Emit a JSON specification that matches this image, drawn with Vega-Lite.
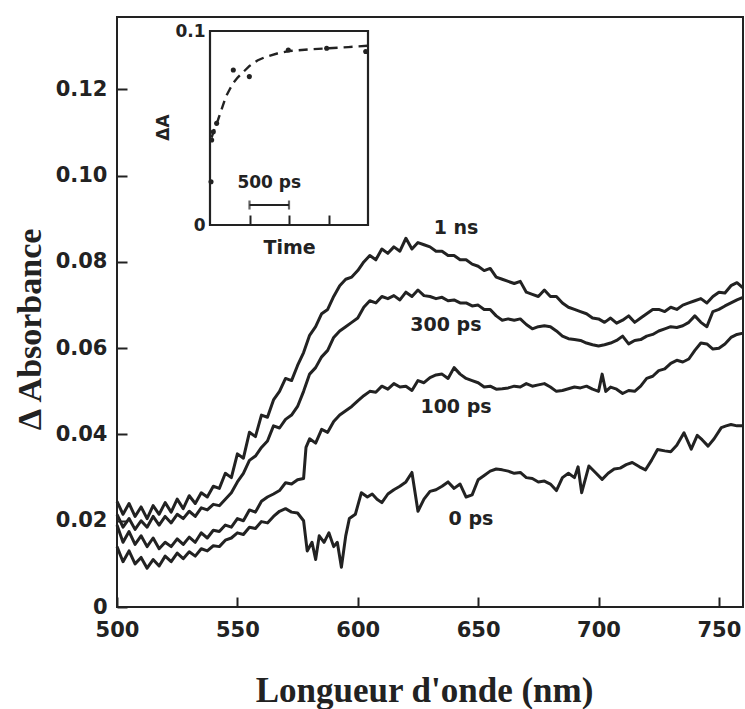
{
"$schema": "https://vega.github.io/schema/vega-lite/v6.json",
"width": 626, "height": 590,
"autosize": {"type": "none"},
"padding": {"left": 117, "top": 17, "right": 2, "bottom": 102},
"background": "white",
"config": {
  "view": {"stroke": "#222", "strokeWidth": 2},
  "axis": {"domain": false, "grid": false, "labelFont": "DejaVu Sans", "labelFontWeight": "bold", "labelColor": "#222", "tickColor": "#222", "tickWidth": 2, "titleColor": "#222"}
},
"datasets": {
  "spectra": [
{"c":"1ns","w":500,"a":0.0245},{"c":"1ns","w":502.5,"a":0.0215},{"c":"1ns","w":505,"a":0.0240},{"c":"1ns","w":507.5,"a":0.0210},{"c":"1ns","w":510,"a":0.0232},{"c":"1ns","w":512.5,"a":0.0205},{"c":"1ns","w":515,"a":0.0235},{"c":"1ns","w":517.5,"a":0.0215},{"c":"1ns","w":520,"a":0.0242},{"c":"1ns","w":522.5,"a":0.0220},{"c":"1ns","w":525,"a":0.0250},{"c":"1ns","w":527.5,"a":0.0228},{"c":"1ns","w":530,"a":0.0258},{"c":"1ns","w":532.5,"a":0.0240},{"c":"1ns","w":535,"a":0.0265},{"c":"1ns","w":537.5,"a":0.0255},{"c":"1ns","w":540,"a":0.0280},{"c":"1ns","w":542.5,"a":0.0275},{"c":"1ns","w":545,"a":0.0310},{"c":"1ns","w":547.5,"a":0.0300},{"c":"1ns","w":550,"a":0.0355},{"c":"1ns","w":552.5,"a":0.0345},{"c":"1ns","w":555,"a":0.0405},{"c":"1ns","w":557.5,"a":0.0395},{"c":"1ns","w":560,"a":0.0445},{"c":"1ns","w":562.5,"a":0.0440},{"c":"1ns","w":565,"a":0.0480},{"c":"1ns","w":567.5,"a":0.0500},{"c":"1ns","w":570,"a":0.0530},{"c":"1ns","w":572.5,"a":0.0525},{"c":"1ns","w":575,"a":0.0560},{"c":"1ns","w":577.5,"a":0.0590},{"c":"1ns","w":580,"a":0.0630},{"c":"1ns","w":582.5,"a":0.0650},{"c":"1ns","w":585,"a":0.0680},{"c":"1ns","w":587.5,"a":0.0690},{"c":"1ns","w":590,"a":0.0720},{"c":"1ns","w":592.5,"a":0.0745},{"c":"1ns","w":595,"a":0.0760},{"c":"1ns","w":597.5,"a":0.0765},{"c":"1ns","w":600,"a":0.0780},{"c":"1ns","w":602.5,"a":0.0800},{"c":"1ns","w":605,"a":0.0815},{"c":"1ns","w":607.5,"a":0.0805},{"c":"1ns","w":610,"a":0.0830},{"c":"1ns","w":612.5,"a":0.0820},{"c":"1ns","w":615,"a":0.0835},{"c":"1ns","w":617.5,"a":0.0825},{"c":"1ns","w":620,"a":0.0855},{"c":"1ns","w":622.5,"a":0.0830},{"c":"1ns","w":625,"a":0.0845},{"c":"1ns","w":627.5,"a":0.0840},{"c":"1ns","w":630,"a":0.0835},{"c":"1ns","w":632.5,"a":0.0825},{"c":"1ns","w":635,"a":0.0825},{"c":"1ns","w":637.5,"a":0.0815},{"c":"1ns","w":640,"a":0.0815},{"c":"1ns","w":642.5,"a":0.0805},{"c":"1ns","w":645,"a":0.0805},{"c":"1ns","w":647.5,"a":0.0795},{"c":"1ns","w":650,"a":0.0790},{"c":"1ns","w":652.5,"a":0.0780},{"c":"1ns","w":655,"a":0.0785},{"c":"1ns","w":657.5,"a":0.0765},{"c":"1ns","w":660,"a":0.0760},{"c":"1ns","w":662.5,"a":0.0755},{"c":"1ns","w":665,"a":0.0750},{"c":"1ns","w":667.5,"a":0.0755},{"c":"1ns","w":670,"a":0.0730},{"c":"1ns","w":672.5,"a":0.0725},{"c":"1ns","w":675,"a":0.0720},{"c":"1ns","w":677.5,"a":0.0735},{"c":"1ns","w":680,"a":0.0720},{"c":"1ns","w":682.5,"a":0.0720},{"c":"1ns","w":685,"a":0.0705},{"c":"1ns","w":687.5,"a":0.0695},{"c":"1ns","w":690,"a":0.0690},{"c":"1ns","w":692.5,"a":0.0685},{"c":"1ns","w":695,"a":0.0680},{"c":"1ns","w":697.5,"a":0.0670},{"c":"1ns","w":700,"a":0.0668},{"c":"1ns","w":702.5,"a":0.0660},{"c":"1ns","w":705,"a":0.0670},{"c":"1ns","w":707.5,"a":0.0658},{"c":"1ns","w":710,"a":0.0665},{"c":"1ns","w":712.5,"a":0.0675},{"c":"1ns","w":715,"a":0.0660},{"c":"1ns","w":717.5,"a":0.0670},{"c":"1ns","w":720,"a":0.0680},{"c":"1ns","w":722.5,"a":0.0690},{"c":"1ns","w":725,"a":0.0690},{"c":"1ns","w":727.5,"a":0.0685},{"c":"1ns","w":730,"a":0.0695},{"c":"1ns","w":732.5,"a":0.0690},{"c":"1ns","w":735,"a":0.0700},{"c":"1ns","w":737.5,"a":0.0705},{"c":"1ns","w":740,"a":0.0710},{"c":"1ns","w":742.5,"a":0.0715},{"c":"1ns","w":745,"a":0.0705},{"c":"1ns","w":747.5,"a":0.0720},{"c":"1ns","w":750,"a":0.0730},{"c":"1ns","w":752.5,"a":0.0728},{"c":"1ns","w":755,"a":0.0745},{"c":"1ns","w":757.5,"a":0.0752},{"c":"1ns","w":760,"a":0.0740},
{"c":"300ps","w":500,"a":0.0215},{"c":"300ps","w":502.5,"a":0.0185},{"c":"300ps","w":505,"a":0.0205},{"c":"300ps","w":507.5,"a":0.0180},{"c":"300ps","w":510,"a":0.0200},{"c":"300ps","w":512.5,"a":0.0185},{"c":"300ps","w":515,"a":0.0210},{"c":"300ps","w":517.5,"a":0.0190},{"c":"300ps","w":520,"a":0.0210},{"c":"300ps","w":522.5,"a":0.0195},{"c":"300ps","w":525,"a":0.0215},{"c":"300ps","w":527.5,"a":0.0205},{"c":"300ps","w":530,"a":0.0222},{"c":"300ps","w":532.5,"a":0.0210},{"c":"300ps","w":535,"a":0.0230},{"c":"300ps","w":537.5,"a":0.0225},{"c":"300ps","w":540,"a":0.0238},{"c":"300ps","w":542.5,"a":0.0235},{"c":"300ps","w":545,"a":0.0250},{"c":"300ps","w":547.5,"a":0.0265},{"c":"300ps","w":550,"a":0.0290},{"c":"300ps","w":552.5,"a":0.0310},{"c":"300ps","w":555,"a":0.0340},{"c":"300ps","w":557.5,"a":0.0350},{"c":"300ps","w":560,"a":0.0370},{"c":"300ps","w":562.5,"a":0.0385},{"c":"300ps","w":565,"a":0.0420},{"c":"300ps","w":567.5,"a":0.0415},{"c":"300ps","w":570,"a":0.0435},{"c":"300ps","w":572.5,"a":0.0445},{"c":"300ps","w":575,"a":0.0465},{"c":"300ps","w":577.5,"a":0.0500},{"c":"300ps","w":580,"a":0.0540},{"c":"300ps","w":582.5,"a":0.0555},{"c":"300ps","w":585,"a":0.0580},{"c":"300ps","w":587.5,"a":0.0595},{"c":"300ps","w":590,"a":0.0625},{"c":"300ps","w":592.5,"a":0.0640},{"c":"300ps","w":595,"a":0.0650},{"c":"300ps","w":597.5,"a":0.0660},{"c":"300ps","w":600,"a":0.0670},{"c":"300ps","w":602.5,"a":0.0695},{"c":"300ps","w":605,"a":0.0710},{"c":"300ps","w":607.5,"a":0.0705},{"c":"300ps","w":610,"a":0.0720},{"c":"300ps","w":612.5,"a":0.0715},{"c":"300ps","w":615,"a":0.0722},{"c":"300ps","w":617.5,"a":0.0712},{"c":"300ps","w":620,"a":0.0730},{"c":"300ps","w":622.5,"a":0.0720},{"c":"300ps","w":625,"a":0.0735},{"c":"300ps","w":627.5,"a":0.0722},{"c":"300ps","w":630,"a":0.0720},{"c":"300ps","w":632.5,"a":0.0715},{"c":"300ps","w":635,"a":0.0718},{"c":"300ps","w":637.5,"a":0.0710},{"c":"300ps","w":640,"a":0.0712},{"c":"300ps","w":642.5,"a":0.0705},{"c":"300ps","w":645,"a":0.0705},{"c":"300ps","w":647.5,"a":0.0698},{"c":"300ps","w":650,"a":0.0700},{"c":"300ps","w":652.5,"a":0.0690},{"c":"300ps","w":655,"a":0.0690},{"c":"300ps","w":657.5,"a":0.0675},{"c":"300ps","w":660,"a":0.0665},{"c":"300ps","w":662.5,"a":0.0668},{"c":"300ps","w":665,"a":0.0665},{"c":"300ps","w":667.5,"a":0.0668},{"c":"300ps","w":670,"a":0.0655},{"c":"300ps","w":672.5,"a":0.0645},{"c":"300ps","w":675,"a":0.0650},{"c":"300ps","w":677.5,"a":0.0652},{"c":"300ps","w":680,"a":0.0650},{"c":"300ps","w":682.5,"a":0.0640},{"c":"300ps","w":685,"a":0.0628},{"c":"300ps","w":687.5,"a":0.0622},{"c":"300ps","w":690,"a":0.0620},{"c":"300ps","w":692.5,"a":0.0618},{"c":"300ps","w":695,"a":0.0612},{"c":"300ps","w":697.5,"a":0.0608},{"c":"300ps","w":700,"a":0.0605},{"c":"300ps","w":702.5,"a":0.0608},{"c":"300ps","w":705,"a":0.0612},{"c":"300ps","w":707.5,"a":0.0618},{"c":"300ps","w":710,"a":0.0628},{"c":"300ps","w":712.5,"a":0.0610},{"c":"300ps","w":715,"a":0.0618},{"c":"300ps","w":717.5,"a":0.0620},{"c":"300ps","w":720,"a":0.0628},{"c":"300ps","w":722.5,"a":0.0632},{"c":"300ps","w":725,"a":0.0640},{"c":"300ps","w":727.5,"a":0.0645},{"c":"300ps","w":730,"a":0.0650},{"c":"300ps","w":732.5,"a":0.0648},{"c":"300ps","w":735,"a":0.0652},{"c":"300ps","w":737.5,"a":0.0660},{"c":"300ps","w":740,"a":0.0675},{"c":"300ps","w":742.5,"a":0.0660},{"c":"300ps","w":745,"a":0.0650},{"c":"300ps","w":747.5,"a":0.0685},{"c":"300ps","w":750,"a":0.0690},{"c":"300ps","w":752.5,"a":0.0698},{"c":"300ps","w":755,"a":0.0705},{"c":"300ps","w":757.5,"a":0.0712},{"c":"300ps","w":760,"a":0.0718},
{"c":"100ps","w":500,"a":0.0190},{"c":"100ps","w":502.5,"a":0.0150},{"c":"100ps","w":505,"a":0.0175},{"c":"100ps","w":507.5,"a":0.0145},{"c":"100ps","w":510,"a":0.0165},{"c":"100ps","w":512.5,"a":0.0140},{"c":"100ps","w":515,"a":0.0160},{"c":"100ps","w":517.5,"a":0.0135},{"c":"100ps","w":520,"a":0.0150},{"c":"100ps","w":522.5,"a":0.0140},{"c":"100ps","w":525,"a":0.0158},{"c":"100ps","w":527.5,"a":0.0145},{"c":"100ps","w":530,"a":0.0162},{"c":"100ps","w":532.5,"a":0.0150},{"c":"100ps","w":535,"a":0.0172},{"c":"100ps","w":537.5,"a":0.0160},{"c":"100ps","w":540,"a":0.0178},{"c":"100ps","w":542.5,"a":0.0175},{"c":"100ps","w":545,"a":0.0190},{"c":"100ps","w":547.5,"a":0.0185},{"c":"100ps","w":550,"a":0.0205},{"c":"100ps","w":552.5,"a":0.0200},{"c":"100ps","w":555,"a":0.0225},{"c":"100ps","w":557.5,"a":0.0220},{"c":"100ps","w":560,"a":0.0245},{"c":"100ps","w":562.5,"a":0.0255},{"c":"100ps","w":565,"a":0.0262},{"c":"100ps","w":567.5,"a":0.0270},{"c":"100ps","w":570,"a":0.0288},{"c":"100ps","w":572.5,"a":0.0285},{"c":"100ps","w":575,"a":0.0295},{"c":"100ps","w":577.5,"a":0.0298},{"c":"100ps","w":578.5,"a":0.0370},{"c":"100ps","w":580,"a":0.0390},{"c":"100ps","w":582.5,"a":0.0380},{"c":"100ps","w":585,"a":0.0412},{"c":"100ps","w":587.5,"a":0.0405},{"c":"100ps","w":590,"a":0.0430},{"c":"100ps","w":592.5,"a":0.0445},{"c":"100ps","w":595,"a":0.0455},{"c":"100ps","w":597.5,"a":0.0465},{"c":"100ps","w":600,"a":0.0478},{"c":"100ps","w":602.5,"a":0.0490},{"c":"100ps","w":605,"a":0.0500},{"c":"100ps","w":607.5,"a":0.0498},{"c":"100ps","w":610,"a":0.0512},{"c":"100ps","w":612.5,"a":0.0505},{"c":"100ps","w":615,"a":0.0518},{"c":"100ps","w":617.5,"a":0.0510},{"c":"100ps","w":620,"a":0.0512},{"c":"100ps","w":622.5,"a":0.0502},{"c":"100ps","w":625,"a":0.0525},{"c":"100ps","w":627.5,"a":0.0520},{"c":"100ps","w":630,"a":0.0532},{"c":"100ps","w":632.5,"a":0.0538},{"c":"100ps","w":635,"a":0.0540},{"c":"100ps","w":637.5,"a":0.0530},{"c":"100ps","w":640,"a":0.0555},{"c":"100ps","w":642.5,"a":0.0540},{"c":"100ps","w":645,"a":0.0530},{"c":"100ps","w":647.5,"a":0.0525},{"c":"100ps","w":650,"a":0.0520},{"c":"100ps","w":652.5,"a":0.0510},{"c":"100ps","w":655,"a":0.0512},{"c":"100ps","w":657.5,"a":0.0505},{"c":"100ps","w":660,"a":0.0506},{"c":"100ps","w":662.5,"a":0.0508},{"c":"100ps","w":665,"a":0.0512},{"c":"100ps","w":667.5,"a":0.0510},{"c":"100ps","w":670,"a":0.0518},{"c":"100ps","w":672.5,"a":0.0512},{"c":"100ps","w":675,"a":0.0515},{"c":"100ps","w":677.5,"a":0.0518},{"c":"100ps","w":680,"a":0.0510},{"c":"100ps","w":682.5,"a":0.0500},{"c":"100ps","w":685,"a":0.0502},{"c":"100ps","w":687.5,"a":0.0506},{"c":"100ps","w":690,"a":0.0510},{"c":"100ps","w":692.5,"a":0.0508},{"c":"100ps","w":695,"a":0.0512},{"c":"100ps","w":697.5,"a":0.0505},{"c":"100ps","w":700,"a":0.0500},{"c":"100ps","w":701.5,"a":0.0540},{"c":"100ps","w":703,"a":0.0500},{"c":"100ps","w":705,"a":0.0510},{"c":"100ps","w":707.5,"a":0.0505},{"c":"100ps","w":710,"a":0.0495},{"c":"100ps","w":712.5,"a":0.0502},{"c":"100ps","w":715,"a":0.0500},{"c":"100ps","w":717.5,"a":0.0512},{"c":"100ps","w":720,"a":0.0530},{"c":"100ps","w":722.5,"a":0.0535},{"c":"100ps","w":725,"a":0.0548},{"c":"100ps","w":727.5,"a":0.0552},{"c":"100ps","w":730,"a":0.0565},{"c":"100ps","w":732.5,"a":0.0572},{"c":"100ps","w":735,"a":0.0568},{"c":"100ps","w":737.5,"a":0.0575},{"c":"100ps","w":740,"a":0.0595},{"c":"100ps","w":742.5,"a":0.0612},{"c":"100ps","w":745,"a":0.0610},{"c":"100ps","w":747.5,"a":0.0598},{"c":"100ps","w":750,"a":0.0600},{"c":"100ps","w":752.5,"a":0.0610},{"c":"100ps","w":755,"a":0.0625},{"c":"100ps","w":757.5,"a":0.0632},{"c":"100ps","w":760,"a":0.0635},
{"c":"0ps","w":500,"a":0.0140},{"c":"0ps","w":502.5,"a":0.0105},{"c":"0ps","w":505,"a":0.0130},{"c":"0ps","w":507.5,"a":0.0100},{"c":"0ps","w":510,"a":0.0115},{"c":"0ps","w":512.5,"a":0.0090},{"c":"0ps","w":515,"a":0.0110},{"c":"0ps","w":517.5,"a":0.0095},{"c":"0ps","w":520,"a":0.0118},{"c":"0ps","w":522.5,"a":0.0105},{"c":"0ps","w":525,"a":0.0125},{"c":"0ps","w":527.5,"a":0.0112},{"c":"0ps","w":530,"a":0.0128},{"c":"0ps","w":532.5,"a":0.0118},{"c":"0ps","w":535,"a":0.0135},{"c":"0ps","w":537.5,"a":0.0130},{"c":"0ps","w":540,"a":0.0142},{"c":"0ps","w":542.5,"a":0.0140},{"c":"0ps","w":545,"a":0.0155},{"c":"0ps","w":547.5,"a":0.0160},{"c":"0ps","w":550,"a":0.0172},{"c":"0ps","w":552.5,"a":0.0168},{"c":"0ps","w":555,"a":0.0185},{"c":"0ps","w":557.5,"a":0.0182},{"c":"0ps","w":560,"a":0.0198},{"c":"0ps","w":562.5,"a":0.0195},{"c":"0ps","w":565,"a":0.0210},{"c":"0ps","w":567.5,"a":0.0222},{"c":"0ps","w":570,"a":0.0228},{"c":"0ps","w":572.5,"a":0.0220},{"c":"0ps","w":575,"a":0.0218},{"c":"0ps","w":577.5,"a":0.0200},{"c":"0ps","w":579,"a":0.0130},{"c":"0ps","w":581,"a":0.0150},{"c":"0ps","w":582.5,"a":0.0110},{"c":"0ps","w":584,"a":0.0165},{"c":"0ps","w":586,"a":0.0150},{"c":"0ps","w":588,"a":0.0172},{"c":"0ps","w":590,"a":0.0140},{"c":"0ps","w":591.5,"a":0.0150},{"c":"0ps","w":593.2,"a":0.0092},{"c":"0ps","w":595,"a":0.0165},{"c":"0ps","w":596.5,"a":0.0205},{"c":"0ps","w":599,"a":0.0215},{"c":"0ps","w":601.5,"a":0.0265},{"c":"0ps","w":604,"a":0.0255},{"c":"0ps","w":606,"a":0.0262},{"c":"0ps","w":608,"a":0.0250},{"c":"0ps","w":610,"a":0.0242},{"c":"0ps","w":612.5,"a":0.0262},{"c":"0ps","w":615,"a":0.0272},{"c":"0ps","w":617.5,"a":0.0280},{"c":"0ps","w":620,"a":0.0290},{"c":"0ps","w":622.5,"a":0.0312},{"c":"0ps","w":625,"a":0.0222},{"c":"0ps","w":627.5,"a":0.0250},{"c":"0ps","w":630,"a":0.0268},{"c":"0ps","w":632.5,"a":0.0272},{"c":"0ps","w":635,"a":0.0280},{"c":"0ps","w":637.5,"a":0.0290},{"c":"0ps","w":640,"a":0.0275},{"c":"0ps","w":642.5,"a":0.0285},{"c":"0ps","w":645,"a":0.0255},{"c":"0ps","w":647.5,"a":0.0260},{"c":"0ps","w":650,"a":0.0295},{"c":"0ps","w":652.5,"a":0.0305},{"c":"0ps","w":655,"a":0.0315},{"c":"0ps","w":657.5,"a":0.0320},{"c":"0ps","w":660,"a":0.0318},{"c":"0ps","w":662.5,"a":0.0315},{"c":"0ps","w":665,"a":0.0310},{"c":"0ps","w":667.5,"a":0.0312},{"c":"0ps","w":670,"a":0.0300},{"c":"0ps","w":672.5,"a":0.0298},{"c":"0ps","w":675,"a":0.0290},{"c":"0ps","w":677.5,"a":0.0292},{"c":"0ps","w":680,"a":0.0285},{"c":"0ps","w":682.5,"a":0.0270},{"c":"0ps","w":685,"a":0.0300},{"c":"0ps","w":687.5,"a":0.0310},{"c":"0ps","w":690,"a":0.0300},{"c":"0ps","w":691.5,"a":0.0325},{"c":"0ps","w":693,"a":0.0265},{"c":"0ps","w":696,"a":0.0327},{"c":"0ps","w":699,"a":0.0310},{"c":"0ps","w":701.5,"a":0.0296},{"c":"0ps","w":704,"a":0.0310},{"c":"0ps","w":706.5,"a":0.0320},{"c":"0ps","w":709,"a":0.0322},{"c":"0ps","w":711.5,"a":0.0330},{"c":"0ps","w":714,"a":0.0335},{"c":"0ps","w":717,"a":0.0325},{"c":"0ps","w":719.5,"a":0.0318},{"c":"0ps","w":722,"a":0.0340},{"c":"0ps","w":724.5,"a":0.0365},{"c":"0ps","w":727.5,"a":0.0362},{"c":"0ps","w":730,"a":0.0360},{"c":"0ps","w":732.5,"a":0.0375},{"c":"0ps","w":735.5,"a":0.0404},{"c":"0ps","w":738.5,"a":0.0366},{"c":"0ps","w":741,"a":0.0398},{"c":"0ps","w":743,"a":0.0388},{"c":"0ps","w":745.5,"a":0.0373},{"c":"0ps","w":748,"a":0.0390},{"c":"0ps","w":751,"a":0.0416},{"c":"0ps","w":753,"a":0.0420},{"c":"0ps","w":755,"a":0.0423},{"c":"0ps","w":757.5,"a":0.0420},{"c":"0ps","w":760,"a":0.0420}
  ],
  "curveLabels": [
    {"lab": "1 ns", "w": 640.8, "a": 0.0879},
    {"lab": "300 ps", "w": 636.6, "a": 0.0655},
    {"lab": "100 ps", "w": 640.8, "a": 0.0463},
    {"lab": "0 ps", "w": 647, "a": 0.0204}
  ],
  "kinetics": [
    {"t": 13, "a": 0.0223}, {"t": 21, "a": 0.0438}, {"t": 42, "a": 0.0481}, {"t": 84, "a": 0.0524},
    {"t": 295, "a": 0.0799}, {"t": 498, "a": 0.0765}, {"t": 991, "a": 0.0902}, {"t": 1477, "a": 0.0911}, {"t": 1971, "a": 0.0894}
  ],
  "fit": [
    {"t": 20, "a": 0.045}, {"t": 60, "a": 0.050}, {"t": 100, "a": 0.054}, {"t": 150, "a": 0.060}, {"t": 200, "a": 0.066},
    {"t": 250, "a": 0.070}, {"t": 300, "a": 0.0735}, {"t": 350, "a": 0.076}, {"t": 400, "a": 0.078}, {"t": 500, "a": 0.082},
    {"t": 600, "a": 0.0848}, {"t": 700, "a": 0.0866}, {"t": 850, "a": 0.0884}, {"t": 1000, "a": 0.0897}, {"t": 1250, "a": 0.0905},
    {"t": 1500, "a": 0.0911}, {"t": 1750, "a": 0.0917}, {"t": 2000, "a": 0.0924}
  ],
  "scaleBar": [{"t": 500, "t1": 1000, "a": 0.0103}],
  "scaleBarEnds": [{"t": 500, "a": 0.0103}, {"t": 1000, "a": 0.0103}],
  "scaleBarText": [{"t": 750, "a": 0.0216, "lab": "500 ps"}],
  "insetBox": [{"t": 0, "t1": 2000, "a": 0, "a1": 0.1}]
},
"layer": [
  {
    "encoding": {
      "x": {"field": "w", "type": "quantitative", "scale": {"domain": [500, 760], "nice": false, "zero": false},
        "axis": {"orient": "bottom", "values": [500, 550, 600, 650, 700, 750], "tickSize": -10, "labelPadding": 22, "labelFontSize": 21, "labelBaseline": "top",
          "title": "Longueur d'onde (nm)", "titleFont": "Liberation Serif", "titleFontWeight": "bold", "titleFontSize": 35,
          "titleX": 307, "titleY": 94, "titleBaseline": "alphabetic", "titleAlign": "center", "labelFlush": false}},
      "y": {"field": "a", "type": "quantitative", "scale": {"domain": [0, 0.1368], "nice": false, "zero": false},
        "axis": {"orient": "left", "values": [0, 0.02, 0.04, 0.06, 0.08, 0.1, 0.12], "tickSize": -10, "labelPadding": 20, "labelFontSize": 21,
          "labelExpr": "datum.value == 0 ? '0' : format(datum.value, '.2f')", "labelFlush": false,
          "title": "Δ Absorbance", "titleFont": "Liberation Serif", "titleFontWeight": "bold", "titleFontSize": 34,
          "titleX": -87, "titleY": 312, "titleAngle": -90, "titleBaseline": "middle", "titleAlign": "center"}}
    },
    "layer": [
      {
        "data": {"name": "spectra"},
        "mark": {"type": "line", "stroke": "#222", "strokeWidth": 3, "strokeJoin": "round", "interpolate": "linear"},
        "encoding": {"detail": {"field": "c", "type": "nominal"}}
      },
      {
        "data": {"name": "curveLabels"},
        "mark": {"type": "text", "font": "DejaVu Sans", "fontWeight": "bold", "fontSize": 19, "color": "#222", "align": "center", "baseline": "middle"},
        "encoding": {"text": {"field": "lab"}}
      }
    ]
  },
  {
    "encoding": {
      "x": {"field": "t", "type": "quantitative", "scale": {"domain": [0, 2000], "range": [93, 251], "nice": false, "zero": false},
        "axis": {"orient": "bottom", "offset": -382, "values": [500, 1000, 1500], "tickSize": -10, "labels": false,
          "title": "Time", "titleFont": "DejaVu Sans", "titleFontWeight": "bold", "titleFontSize": 19,
          "titleX": 172, "titleY": 22, "titleBaseline": "middle", "titleAlign": "center"}},
      "y": {"field": "a", "type": "quantitative", "scale": {"domain": [0, 0.1], "range": [208, 14], "nice": false, "zero": false},
        "axis": {"orient": "left", "offset": -93, "values": [0, 0.1], "ticks": false, "labelPadding": 5, "labelFontSize": 17,
          "labelExpr": "datum.value == 0 ? '0' : '0.1'", "labelFlush": false,
          "title": "ΔA", "titleFont": "DejaVu Sans", "titleFontWeight": "bold", "titleFontSize": 17,
          "titleX": -47, "titleY": 110, "titleAngle": -90, "titleBaseline": "middle", "titleAlign": "center"}}
    },
    "layer": [
      {
        "data": {"name": "insetBox"},
        "mark": {"type": "rect", "filled": false, "stroke": "#222", "strokeWidth": 2.2},
        "encoding": {"x2": {"field": "t1"}, "y2": {"field": "a1"}}
      },
      {
        "data": {"name": "fit"},
        "mark": {"type": "line", "stroke": "#222", "strokeWidth": 2.4, "strokeDash": [9, 6]}
      },
      {
        "data": {"name": "kinetics"},
        "mark": {"type": "circle", "color": "#222", "size": 26, "opacity": 1}
      },
      {
        "data": {"name": "scaleBar"},
        "mark": {"type": "rule", "stroke": "#222", "strokeWidth": 2.2},
        "encoding": {"x2": {"field": "t1"}}
      },
      {
        "data": {"name": "scaleBarEnds"},
        "mark": {"type": "tick", "orient": "vertical", "color": "#222", "size": 9, "thickness": 2.2}
      },
      {
        "data": {"name": "scaleBarText"},
        "mark": {"type": "text", "font": "DejaVu Sans", "fontWeight": "bold", "fontSize": 17, "color": "#222", "align": "center", "baseline": "middle"},
        "encoding": {"text": {"field": "lab"}}
      }
    ]
  }
],
"resolve": {"scale": {"x": "independent", "y": "independent"}, "axis": {"x": "independent", "y": "independent"}}
}
